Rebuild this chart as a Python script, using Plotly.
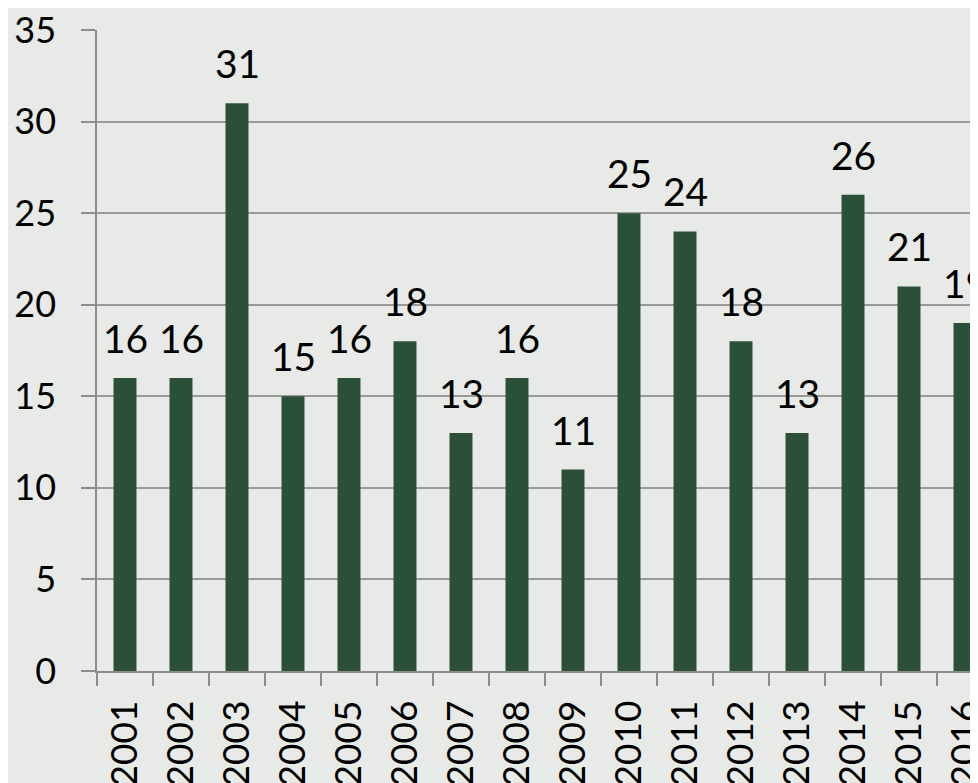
import plotly.graph_objects as go

years = ["2001", "2002", "2003", "2004", "2005", "2006", "2007", "2008",
         "2009", "2010", "2011", "2012", "2013", "2014", "2015", "2016"]
values = [16, 16, 31, 15, 16, 18, 13, 16, 11, 25, 24, 18, 13, 26, 21, 19]

BG = "#e7eae7"
BAR = "#2b4f39"
FONT = "Lato"

fig = go.Figure()
fig.add_trace(go.Bar(
    x=years, y=values, marker=dict(color=BAR, line=dict(width=0)),
    width=0.41, hoverinfo="skip",
))

for i, v in enumerate(values):
    fig.add_annotation(
        x=i, y=v, text=str(v), showarrow=False, yanchor="bottom",
        yshift=15, font=dict(family=FONT, size=39, color="#000000"),
    )

fig.update_layout(
    width=970, height=775,
    margin=dict(l=89, r=0, t=22, b=112, autoexpand=False),
    paper_bgcolor=BG, plot_bgcolor=BG,
    showlegend=False,
)
fig.update_xaxes(
    type="category", range=[-0.5, 15.232], tickson="boundaries",
    ticks="outside", ticklen=13, tickcolor="#8c8c8c", tickwidth=1.5,
    showline=True, linecolor="#8c8c8c", linewidth=1.5,
    showgrid=False, tickangle=-90, automargin=False,
    tickfont=dict(family=FONT, size=37, color="#000000"),
    ticklabelstandoff=13, ticklabeloverflow="allow",
)
fig.update_yaxes(
    range=[0, 35], dtick=5, tick0=0,
    ticks="outside", ticklen=14, tickcolor="#8c8c8c", tickwidth=1.5,
    showline=True, linecolor="#8c8c8c", linewidth=1.5,
    showgrid=True, gridcolor="#9a9a9a", gridwidth=1.5,
    zeroline=False, automargin=False,
    tickfont=dict(family=FONT, size=36, color="#000000"),
    ticklabelstandoff=18, ticklabeloverflow="allow",
)

fig.write_html("out.html")
